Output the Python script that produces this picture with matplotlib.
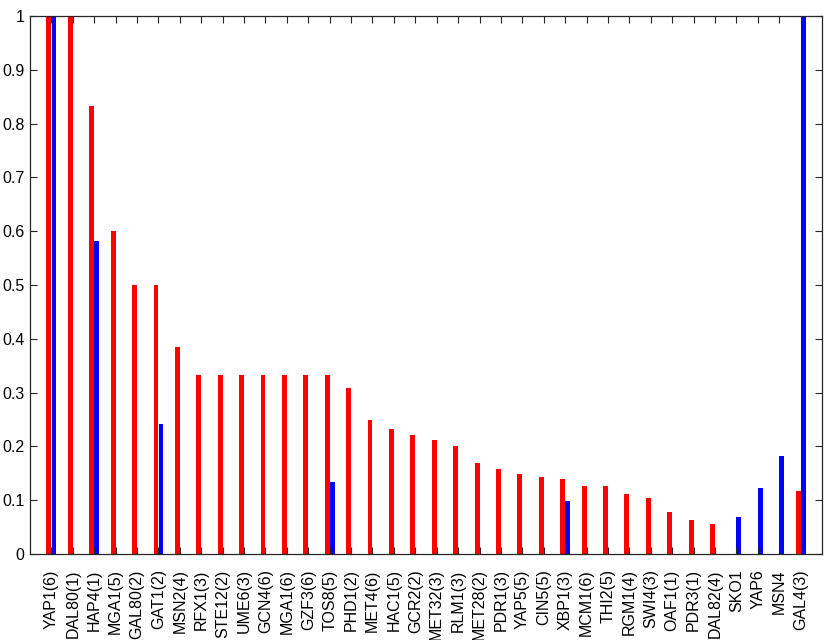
import matplotlib
matplotlib.use("Agg")
import matplotlib.pyplot as plt
import numpy as np

plt.rcParams['font.family'] = ['Liberation Sans', 'DejaVu Sans']

categories = ["YAP1(6)", "DAL80(1)", "HAP4(1)", "MGA1(5)", "GAL80(2)", "GAT1(2)",
              "MSN2(4)", "RFX1(3)", "STE12(2)", "UME6(3)", "GCN4(6)", "MGA1(6)",
              "GZF3(6)", "TOS8(5)", "PHD1(2)", "MET4(6)", "HAC1(5)", "GCR2(2)",
              "MET32(3)", "RLM1(3)", "MET28(2)", "PDR1(3)", "YAP5(5)", "CIN5(5)",
              "XBP1(3)", "MCM1(6)", "THI2(5)", "RGM1(4)", "SWI4(3)", "OAF1(1)",
              "PDR3(1)", "DAL82(4)", "SKO1", "YAP6", "MSN4", "GAL4(3)"]

red_values = [1.0, 1.0, 0.833, 0.6, 0.5, 0.5,
              0.385, 0.333, 0.333, 0.333, 0.333, 0.333,
              0.333, 0.333, 0.308, 0.25, 0.233, 0.222,
              0.212, 0.2, 0.17, 0.158, 0.149, 0.143,
              0.139, 0.126, 0.126, 0.112, 0.104, 0.078,
              0.0635, 0.0556, 0.0, 0.0, 0.0, 0.117]

blue_values = [1.0, 0.0, 0.582, 0.0, 0.0, 0.241,
               0.0, 0.0, 0.0, 0.0, 0.0, 0.0,
               0.0, 0.134, 0.0, 0.0, 0.0, 0.0,
               0.0, 0.0, 0.0, 0.0, 0.0, 0.0,
               0.098, 0.0, 0.0, 0.0, 0.0, 0.0,
               0.0, 0.0, 0.068, 0.122, 0.182, 1.0]

yticks = [0, 0.1, 0.2, 0.3, 0.4, 0.5, 0.6, 0.7, 0.8, 0.9, 1]
ytick_labels = ["0", "0.1", "0.2", "0.3", "0.4", "0.5", "0.6", "0.7", "0.8", "0.9", "1"]

fig = plt.figure(figsize=(8.3, 6.4), dpi=100)
ax = fig.add_axes([30/830, 1-554/640, 792/830, 538/640])

x = np.arange(1, len(categories) + 1)
w = 0.23
ax.bar(x - 0.115, red_values, width=w, color='#FF0000', edgecolor='none', zorder=1)
ax.bar(x + 0.12, blue_values, width=w, color='#0000FF', edgecolor='none', zorder=1)

ax.set_xlim(0, len(categories) + 1)
ax.set_ylim(0, 1)
ax.set_xticks(x)
ax.set_xticklabels(categories, rotation=90, fontsize=11.5)
ax.set_yticks(yticks)
ax.set_yticklabels(ytick_labels, fontsize=11.5)

edge = '#262626'
for s in ax.spines.values():
    s.set_color(edge)
    s.set_linewidth(0.9)
ax.tick_params(axis='both', direction='in', length=5, width=0.8, color=edge,
               top=True, right=True, labelcolor='black')
ax.tick_params(axis='x', pad=11)
ax.tick_params(axis='y', pad=4)

fig.savefig("out.png", dpi=100)
